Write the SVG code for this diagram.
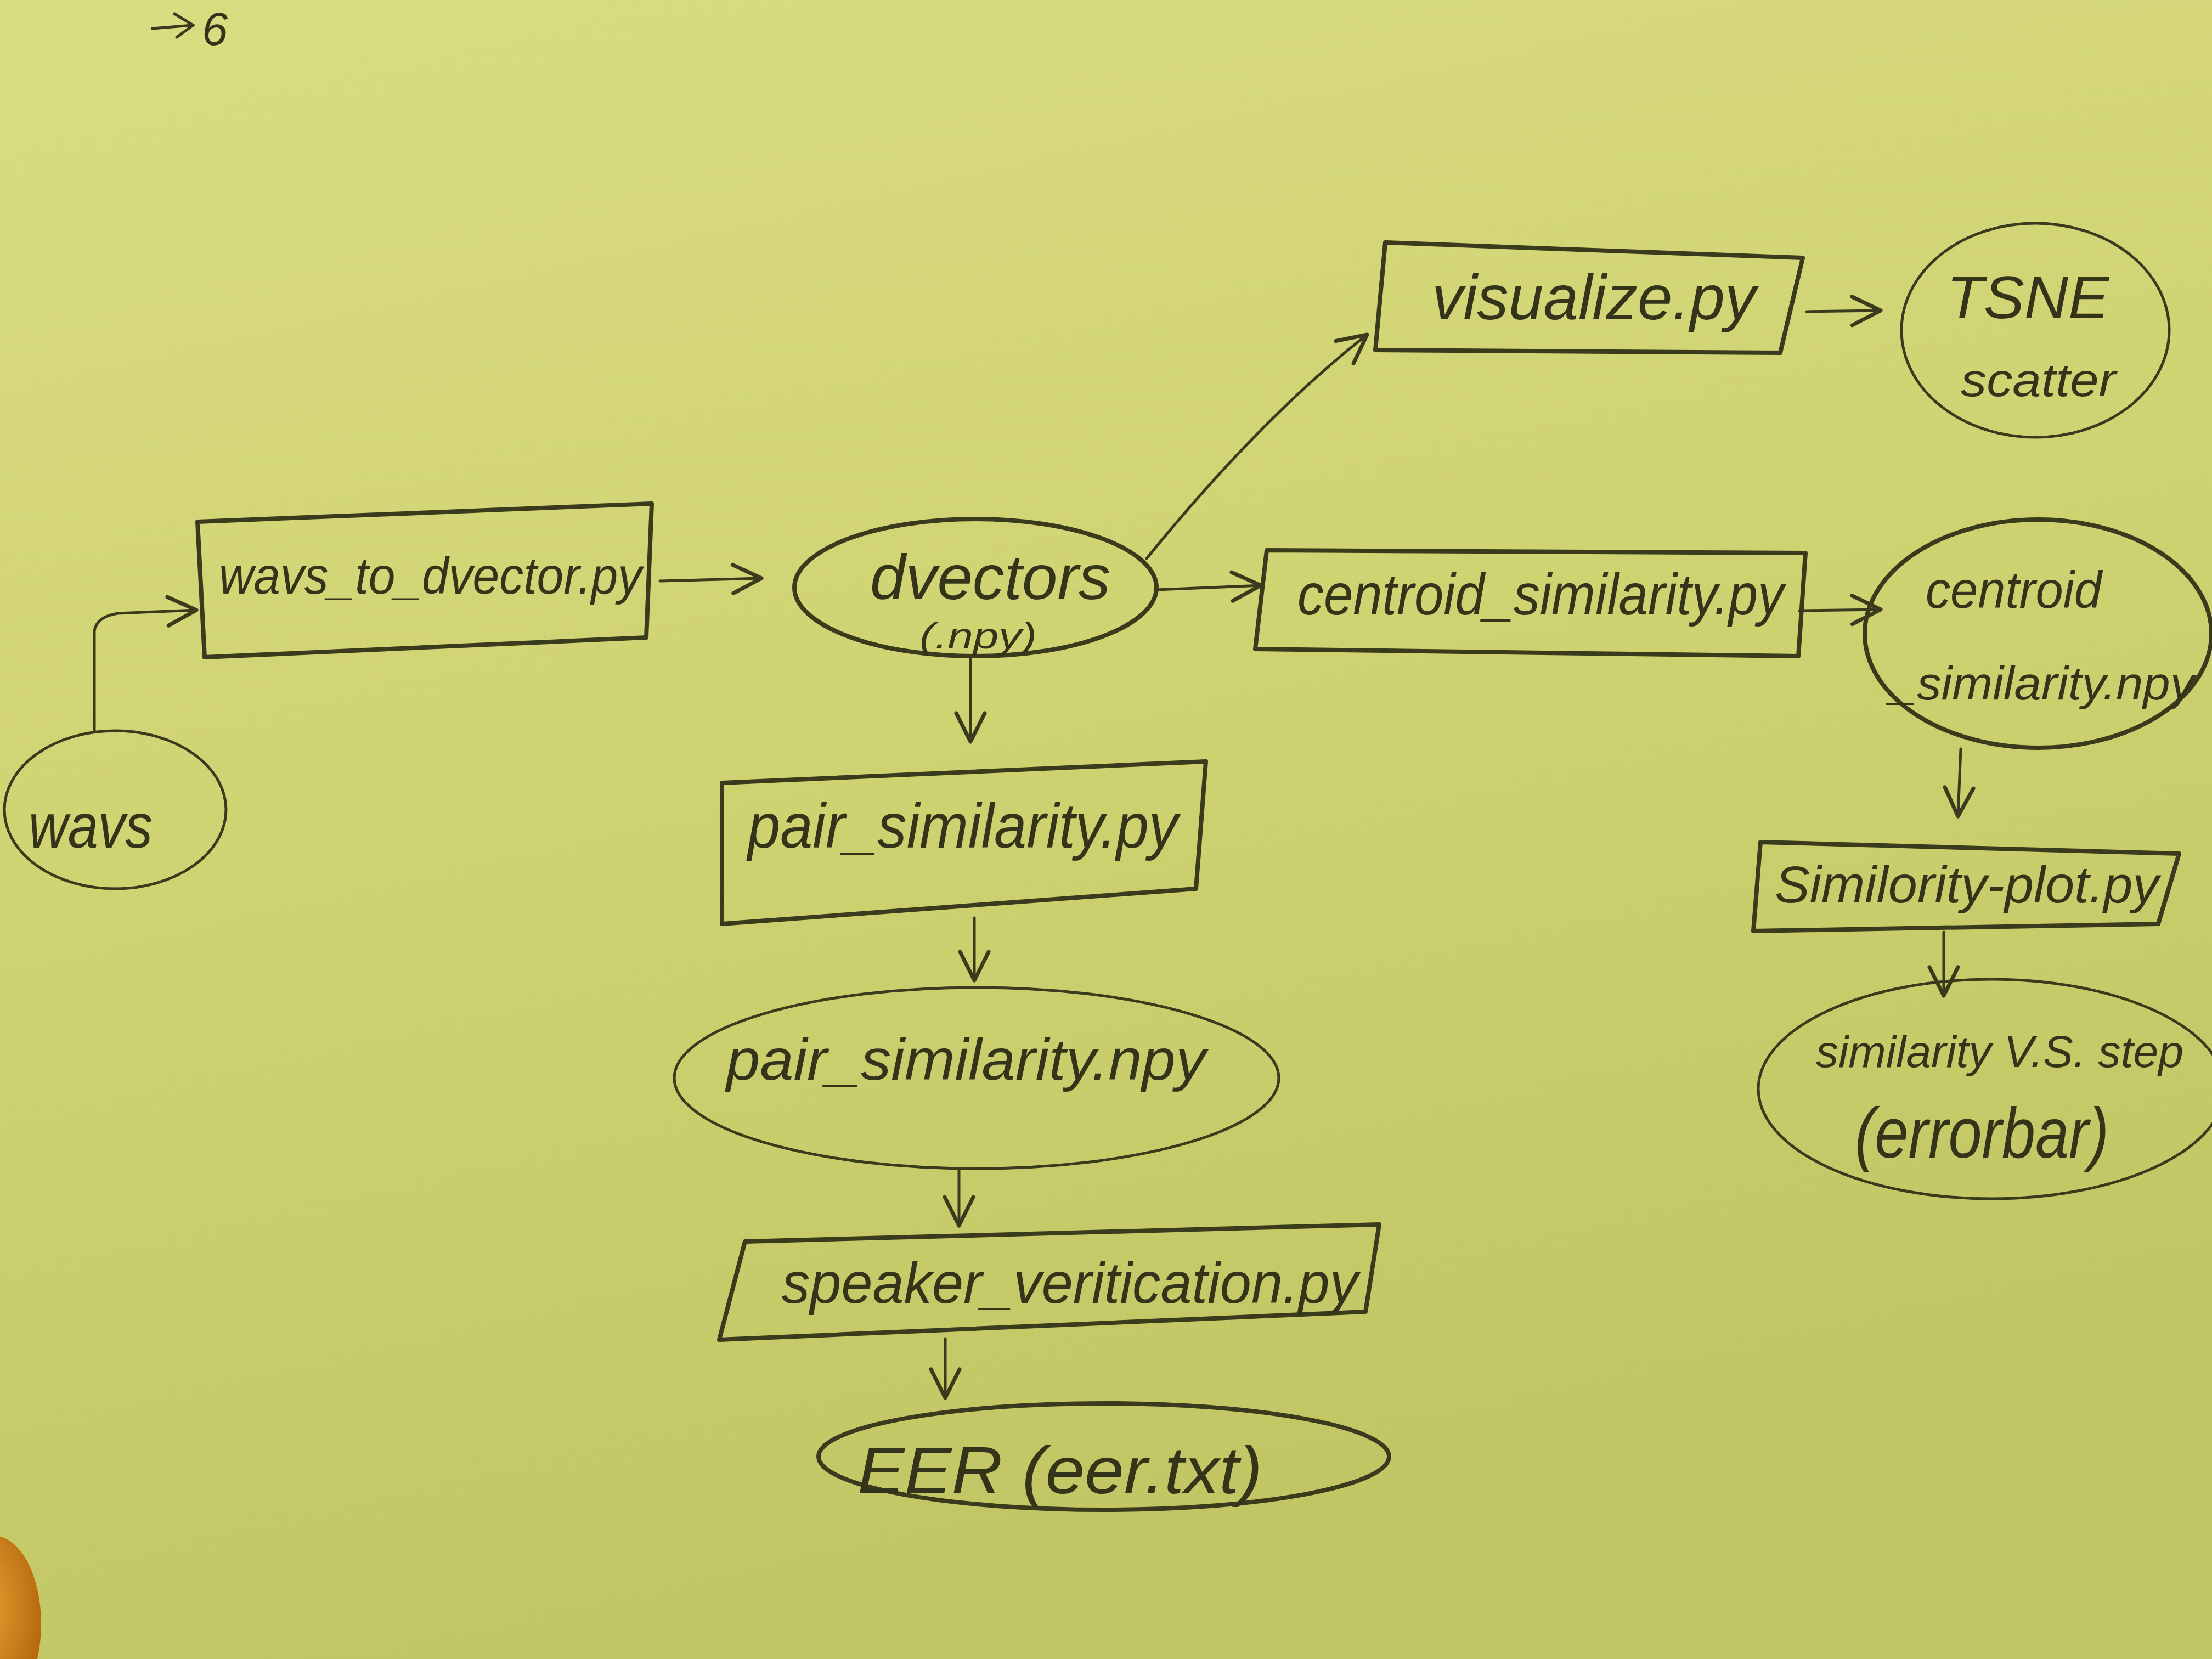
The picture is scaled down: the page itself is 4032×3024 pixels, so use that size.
<svg xmlns="http://www.w3.org/2000/svg" width="4032" height="3024" viewBox="0 0 4032 3024">
<defs>
<linearGradient id="paper" x1="0" y1="0" x2="0.3" y2="1">
<stop offset="0" stop-color="#dadc82"/>
<stop offset="0.5" stop-color="#d0d372"/>
<stop offset="1" stop-color="#c2c563"/>
</linearGradient>
<radialGradient id="finger" cx="0.4" cy="0.4" r="0.6">
<stop offset="0" stop-color="#e8a030"/>
<stop offset="1" stop-color="#b86a10"/>
</radialGradient>
<marker id="arr" markerUnits="userSpaceOnUse" markerWidth="80" markerHeight="80" refX="60" refY="30" orient="auto" viewBox="0 0 80 60">
<path d="M8,4 L60,30 L8,56" fill="none" stroke="#3a3a1c" stroke-width="7" stroke-linecap="round" stroke-linejoin="round"/>
</marker>
<style>
.s{fill:none;stroke:#3a3a1c;stroke-width:8;stroke-linecap:round;stroke-linejoin:round}
.c{fill:none;stroke:#3a3a1c;stroke-width:5;stroke-linecap:round}
.t{font-family:"Liberation Sans","DejaVu Sans",sans-serif;fill:#34341a;font-style:italic}
</style>
</defs>
<rect x="0" y="0" width="4032" height="3024" fill="url(#paper)"/>
<ellipse cx="-10" cy="2960" rx="85" ry="160" fill="url(#finger)"/>

<g id="note">
<path class="c" d="M278,52 L350,46 M318,25 L352,46 L322,68"/>
<text class="t" x="368" y="82" font-size="85">6</text>
</g>

<g id="connectors">
<path class="c" marker-end="url(#arr)" d="M172,1332 L172,1150 Q176,1124 215,1118 L358,1112"/>
<path class="c" marker-end="url(#arr)" d="M1203,1059 L1388,1054"/>
<path class="c" marker-end="url(#arr)" d="M2090,1018 Q2300,760 2492,610"/>
<path class="c" marker-end="url(#arr)" d="M2108,1075 L2298,1067"/>
<path class="c" marker-end="url(#arr)" d="M1769,1198 L1769,1352"/>
<path class="c" marker-end="url(#arr)" d="M1776,1673 L1776,1787"/>
<path class="c" marker-end="url(#arr)" d="M1748,2131 L1748,2234"/>
<path class="c" marker-end="url(#arr)" d="M1723,2440 L1723,2548"/>
<path class="c" marker-end="url(#arr)" d="M3293,568 L3428,566"/>
<path class="c" marker-end="url(#arr)" d="M3280,1113 L3428,1111"/>
<path class="c" marker-end="url(#arr)" d="M3574,1365 L3569,1488"/>
<path class="c" marker-end="url(#arr)" d="M3543,1699 L3543,1815"/>
</g>

<g id="wavs">
<ellipse class="c" cx="210" cy="1476" rx="202" ry="144"/>
<text class="t" x="52" y="1545" font-size="115" textLength="226" lengthAdjust="spacingAndGlyphs">wavs</text>
</g>

<g id="wavs_to_dvector">
<path class="s" d="M360,951 L1188,918 L1178,1162 L373,1198 Z"/>
<text class="t" x="399" y="1082" font-size="95" textLength="771" lengthAdjust="spacingAndGlyphs">wavs_to_dvector.py</text>
</g>

<g id="dvectors">
<ellipse class="s" cx="1778" cy="1071" rx="330" ry="125"/>
<text class="t" x="1586" y="1092" font-size="115" textLength="438" lengthAdjust="spacingAndGlyphs">dvectors</text>
<text class="t" x="1676" y="1182" font-size="66" textLength="214" lengthAdjust="spacingAndGlyphs">(.npy)</text>
</g>

<g id="visualize">
<path class="s" d="M2525,442 L3286,470 L3245,643 L2507,638 Z"/>
<text class="t" x="2610" y="582" font-size="115" textLength="591" lengthAdjust="spacingAndGlyphs">visualize.py</text>
</g>

<g id="tsne">
<ellipse class="c" cx="3710" cy="602" rx="244" ry="195"/>
<text class="t" x="3548" y="580" font-size="110" textLength="296" lengthAdjust="spacingAndGlyphs">TSNE</text>
<text class="t" x="3574" y="722" font-size="85" textLength="283" lengthAdjust="spacingAndGlyphs">scatter</text>
</g>

<g id="centroid_similarity_py">
<path class="s" d="M2309,1003 L3291,1008 L3278,1196 L2288,1183 Z"/>
<text class="t" x="2365" y="1120" font-size="105" textLength="887" lengthAdjust="spacingAndGlyphs">centroid_similarity.py</text>
</g>

<g id="centroid_similarity_npy">
<ellipse class="s" cx="3715" cy="1155" rx="316" ry="208"/>
<text class="t" x="3510" y="1108" font-size="95" textLength="321" lengthAdjust="spacingAndGlyphs">centroid</text>
<text class="t" x="3445" y="1275" font-size="85" textLength="555" lengthAdjust="spacingAndGlyphs">_similarity.npy</text>
</g>

<g id="pair_similarity_py">
<path class="s" d="M1316,1427 L2198,1388 L2180,1620 L1316,1684 Z"/>
<text class="t" x="1363" y="1545" font-size="115" textLength="784" lengthAdjust="spacingAndGlyphs">pair_similarity.py</text>
</g>

<g id="pair_similarity_npy">
<ellipse class="c" cx="1780" cy="1965" rx="551" ry="165"/>
<text class="t" x="1324" y="1968" font-size="105" textLength="874" lengthAdjust="spacingAndGlyphs">pair_similarity.npy</text>
</g>

<g id="speaker_verification">
<path class="s" d="M1358,2263 L2514,2232 L2489,2391 L1311,2442 Z"/>
<text class="t" x="1425" y="2375" font-size="105" textLength="1050" lengthAdjust="spacingAndGlyphs">speaker_veritication.py</text>
</g>

<g id="eer">
<ellipse class="s" cx="2012" cy="2655" rx="520" ry="97"/>
<text class="t" x="1563" y="2722" font-size="120" textLength="738" lengthAdjust="spacingAndGlyphs">EER (eer.txt)</text>
</g>

<g id="similarity_plot">
<path class="s" d="M3209,1535 L3972,1556 L3934,1684 L3196,1697 Z"/>
<text class="t" x="3235" y="1645" font-size="95" textLength="700" lengthAdjust="spacingAndGlyphs">Similority-plot.py</text>
</g>

<g id="similarity_vs_step">
<ellipse class="c" cx="3630" cy="1985" rx="425" ry="200"/>
<text class="t" x="3310" y="1945" font-size="82" textLength="670" lengthAdjust="spacingAndGlyphs">similarity V.S. step</text>
<text class="t" x="3381" y="2110" font-size="130" textLength="463" lengthAdjust="spacingAndGlyphs">(errorbar)</text>
</g>
</svg>
